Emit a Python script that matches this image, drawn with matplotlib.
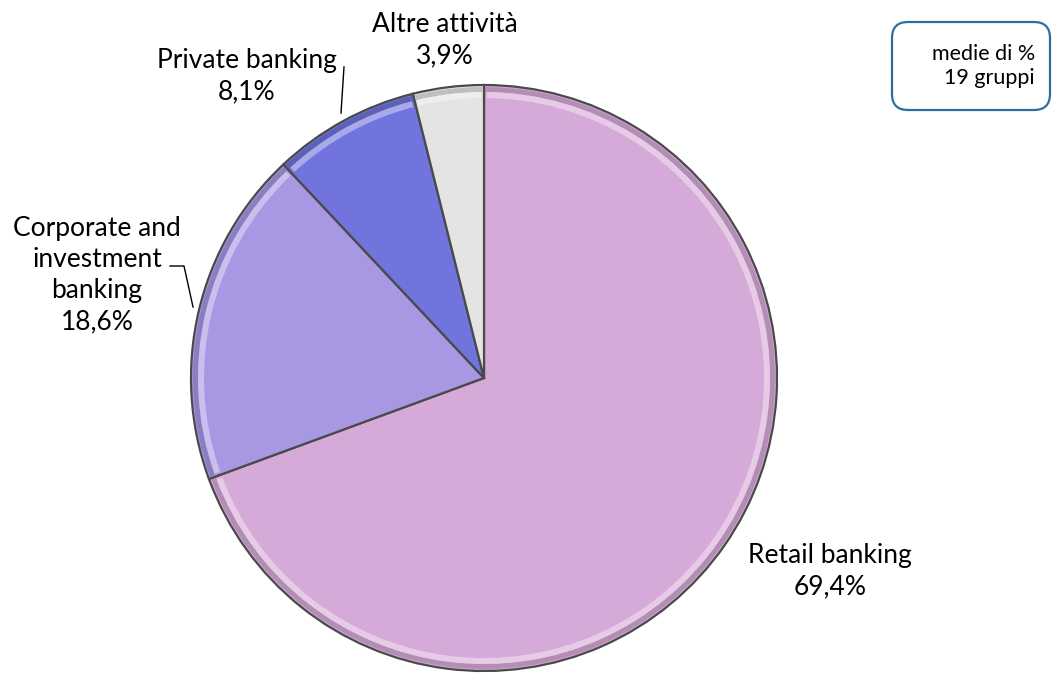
import matplotlib.pyplot as plt
from matplotlib.patches import Wedge, FancyBboxPatch
import numpy as np

plt.rcParams['font.family'] = ['Lato', 'DejaVu Sans']

# quote di margine per area di business
settori = ["Retail banking", "Corporate and\ninvestment\nbanking", "Private banking", "Altre attività"]
quote = [69.4, 18.6, 8.1, 3.9]
colori = ["#D6AAD8", "#A898E4", "#7074DC", "#E4E4E4"]
esplodi = [0.018, 0, 0, 0]

W, H = 1053, 673
fig = plt.figure(figsize=(W / 100, H / 100), dpi=100)
ax = fig.add_axes([0, 0, 1, 1])

cx, cy, r = 484, H - 378, 293
wedges, _ = ax.pie(quote, colors=colori, startangle=90, counterclock=False,
                   center=(cx, cy), radius=r, explode=esplodi,
                   wedgeprops=dict(edgecolor='#4a4a4a', linewidth=1.6),
                   frame=True)
ax.set_xlim(0, W)
ax.set_ylim(0, H)
ax.set_aspect('equal')
ax.axis('off')

# effetto smussato: bordo chiaro lungo l'arco di ogni spicchio
for w in wedges:
    c = np.array(plt.matplotlib.colors.to_rgb(w.get_facecolor()))
    light = 1 - (1 - c) * 0.45
    dark = c * 0.7
    ax.add_patch(Wedge(w.center, w.r - 2, w.theta1 + 0.3, w.theta2 - 0.3, width=5,
                       facecolor=dark, edgecolor='none', alpha=0.55))
    ax.add_patch(Wedge(w.center, w.r - 7, w.theta1 + 0.6, w.theta2 - 0.6, width=6,
                       facecolor=light, edgecolor='none', alpha=0.7))

def etichetta(i):
    return f"{settori[i]}\n{quote[i]:.1f}%".replace('.', ',')

fs = 19
kw = dict(ha='center', va='center', fontsize=fs, linespacing=1.3)
ax.text(830, H - 571, etichetta(0), **kw)
ax.text(97, H - 275, etichetta(1), **kw)
ax.text(247, H - 76, etichetta(2), **kw)
ax.text(445, H - 40, etichetta(3), **kw)

# linee guida
ax.plot([344, 341], [H - 67, H - 113], color='black', lw=1)
ax.plot([170, 184, 193], [H - 266, H - 266, H - 307], color='black', lw=1)

# riquadro note
box = FancyBboxPatch((892, H - 110), 158, 88, boxstyle="round,pad=0,rounding_size=16",
                     facecolor='white', edgecolor='#2E6E9E', linewidth=1.6)
ax.add_patch(box)
ax.text(1035, H - 66, "medie di %\n19 gruppi", ha='right', va='center', fontsize=15.5,
        linespacing=1.3)

fig.savefig("out.png", dpi=100)
